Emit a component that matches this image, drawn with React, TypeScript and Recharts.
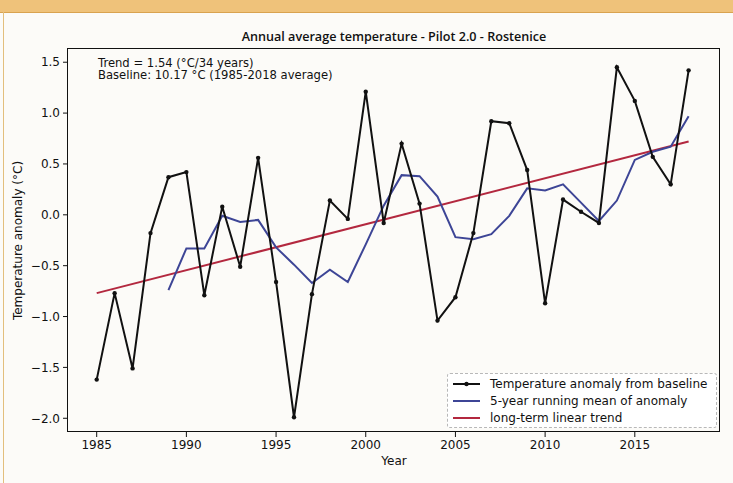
import React from "react";
import { LineChart, Line, XAxis, YAxis } from "recharts";

// Annual anomaly (°C) relative to the 1985-2018 baseline
const years = [
  1985, 1986, 1987, 1988, 1989, 1990, 1991, 1992, 1993, 1994, 1995, 1996,
  1997, 1998, 1999, 2000, 2001, 2002, 2003, 2004, 2005, 2006, 2007, 2008,
  2009, 2010, 2011, 2012, 2013, 2014, 2015, 2016, 2017, 2018,
];

const anomaly = [
  -1.62, -0.77, -1.51, -0.18, 0.37, 0.42, -0.79, 0.08, -0.51, 0.56, -0.66, -1.99,
  -0.78, 0.14, -0.04, 1.21, -0.08, 0.7, 0.11, -1.04, -0.81, -0.18, 0.92, 0.9,
  0.44, -0.87, 0.15, 0.03, -0.08, 1.45, 1.12, 0.57, 0.3, 1.42,
];

const runningMean = [
  null, null, null, null, -0.74, -0.33, -0.33, -0.01, -0.07, -0.05, -0.32, -0.49,
  -0.67, -0.54, -0.66, -0.29, 0.09, 0.39, 0.38, 0.18, -0.22, -0.24, -0.19, -0.01,
  0.26, 0.24, 0.3, 0.12, -0.06, 0.14, 0.54, 0.62, 0.67, 0.97,
];

// linear trend: only the two end points are drawn
const trend = [
  -0.77, null, null, null, null, null, null, null, null, null, null, null,
  null, null, null, null, null, null, null, null, null, null, null, null,
  null, null, null, null, null, null, null, null, null, 0.72,
];

const xTicks = [1985, 1990, 1995, 2000, 2005, 2010, 2015];
const yTicks = [-2.0, -1.5, -1.0, -0.5, 0.0, 0.5, 1.0, 1.5];

const legendItems = [
  { label: "Temperature anomaly from baseline", color: "#111111", dot: true },
  { label: "5-year running mean of anomaly", color: "#3d4596", dot: false },
  { label: "long-term linear trend", color: "#b3283f", dot: false },
];

const FONT = "'DejaVu Sans', sans-serif";
const INK = "#111111";

const data = years.map((year, i) => ({
  year,
  anomaly: anomaly[i],
  mean: runningMean[i],
  trend: trend[i],
}));

const fmt = (v: number) => {
  const s = Math.abs(v).toFixed(1);
  return v < 0 ? `\u2212${s}` : s;
};

function LegendBox() {
  return (
    <div
      style={{
        position: "absolute",
        left: 447,
        top: 373,
        width: 270,
        height: 55,
        boxSizing: "border-box",
        border: "1px dashed #b8b8b8",
        borderRadius: 3,
        background: "#fff",
        padding: "1px 0 0 4px",
        fontFamily: FONT,
        fontSize: 12,
        color: INK,
      }}
    >
      {legendItems.map((it) => (
        <div key={it.label} style={{ display: "flex", alignItems: "center", height: 17 }}>
          <svg width={32} height={10} style={{ marginRight: 6 }}>
            <line x1={1} y1={5} x2={28} y2={5} stroke={it.color} strokeWidth={2} />
            {it.dot && <circle cx={14.5} cy={5} r={2.2} fill={it.color} />}
          </svg>
          <span>{it.label}</span>
        </div>
      ))}
    </div>
  );
}

export default function App() {
  return (
    <div
      style={{
        position: "absolute",
        left: 0,
        top: 0,
        width: 733,
        height: 483,
        background: "#fcfbf8",
        overflow: "hidden",
      }}
    >
      {/* scanned page edge */}
      <div style={{ position: "absolute", left: 0, top: 0, width: 733, height: 12, background: "#efc27a" }} />
      <div style={{ position: "absolute", left: 0, top: 12, width: 733, height: 1, background: "#d9a350" }} />
      <div style={{ position: "absolute", left: 3, top: 12, width: 1, height: 471, background: "#e3bf7d" }} />

      <div
        style={{
          position: "absolute",
          left: 68,
          width: 652,
          top: 28,
          textAlign: "center",
          fontFamily: "'Open Sans', sans-serif",
          fontSize: 12.6,
          fontWeight: 600,
          color: INK,
        }}
      >
        Annual average temperature - Pilot 2.0 - Rostenice
      </div>

      <div
        style={{
          position: "absolute",
          left: 98,
          top: 57,
          fontFamily: FONT,
          fontSize: 11.6,
          lineHeight: "12px",
          color: INK,
          whiteSpace: "pre",
        }}
      >
        {"Trend = 1.54 (\u00b0C/34 years)\nBaseline: 10.17 \u00b0C (1985-2018 average)"}
      </div>

      <LineChart
        width={733}
        height={483}
        data={data}
        margin={{ top: 49, right: 13, bottom: 19, left: 8 }}
        style={{ position: "absolute", left: 0, top: 0 }}
      >
        <XAxis
          dataKey="year"
          type="number"
          domain={[1983.4, 2019.75]}
          ticks={xTicks}
          height={32}
          axisLine={false}
          tickLine={{ stroke: INK }}
          tickSize={5}
          tickMargin={3}
          tick={{ fontSize: 12, fill: INK, fontFamily: FONT }}
          label={{ value: "Year", position: "insideBottom", offset: -1, fontSize: 12, fill: INK, fontFamily: FONT }}
        />
        <YAxis
          type="number"
          domain={[-2.135, 1.63]}
          ticks={yTicks}
          width={60}
          axisLine={false}
          tickLine={{ stroke: INK }}
          tickSize={5}
          tickMargin={3}
          tickFormatter={fmt}
          tick={{ fontSize: 12, fill: INK, fontFamily: FONT }}
          label={{
            value: "Temperature anomaly (\u00b0C)",
            angle: -90,
            position: "insideLeft",
            offset: 10,
            style: { textAnchor: "middle", fontSize: 12, fill: INK, fontFamily: FONT },
          }}
        />
        <Line
          type="linear"
          dataKey="trend"
          stroke="#b3283f"
          strokeWidth={2}
          dot={false}
          connectNulls
          isAnimationActive={false}
        />
        <Line
          type="linear"
          dataKey="mean"
          stroke="#3d4596"
          strokeWidth={2}
          dot={false}
          isAnimationActive={false}
        />
        <Line
          type="linear"
          dataKey="anomaly"
          stroke="#111111"
          strokeWidth={2}
          dot={{ r: 2.2, fill: "#111111", stroke: "#111111", strokeWidth: 0 }}
          isAnimationActive={false}
        />
      </LineChart>

      <LegendBox />

      {/* axes frame */}
      <div
        style={{
          position: "absolute",
          left: 67,
          top: 48,
          width: 653,
          height: 384,
          border: `1px solid ${INK}`,
          boxSizing: "border-box",
          pointerEvents: "none",
        }}
      />
    </div>
  );
}
